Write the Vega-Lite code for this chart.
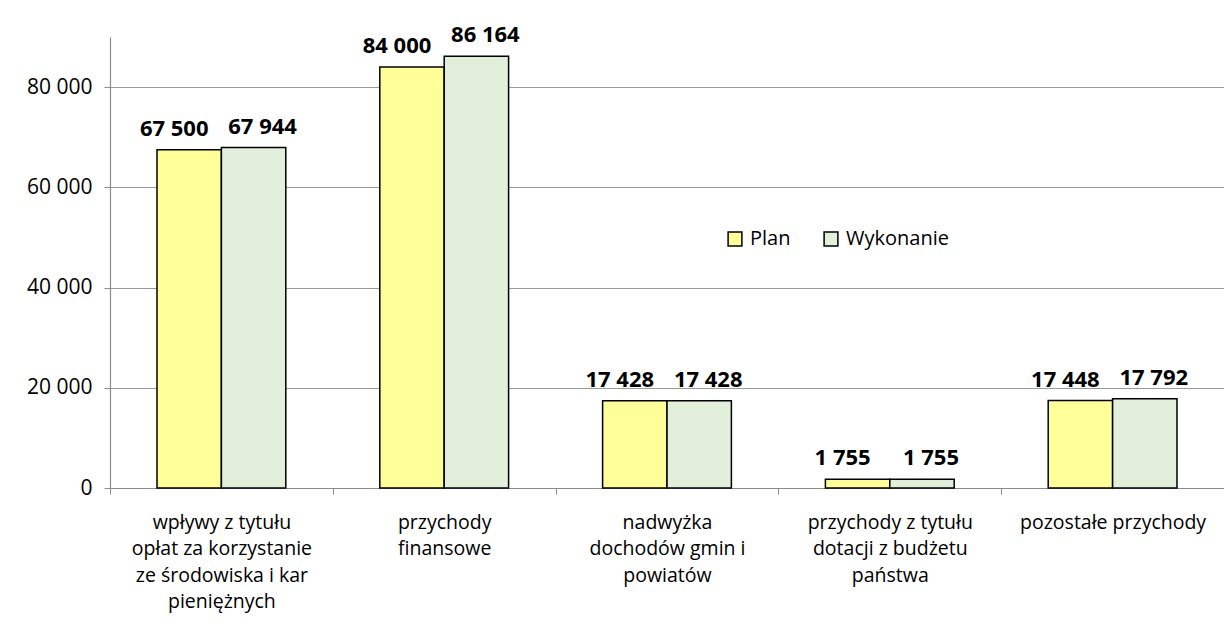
{
  "$schema": "https://vega.github.io/schema/vega-lite/v6.json",
  "width": 1114,
  "height": 451,
  "autosize": {"type": "none"},
  "padding": {"left": 110, "top": 37, "right": 0, "bottom": 144},
  "background": "white",
  "config": {
    "locale": {"number": {"decimal": ",", "thousands": " ", "grouping": [3], "currency": ["", " zł"]}},
    "font": "Open Sans",
    "view": {"stroke": null}
  },
  "data": {
    "values": [
      {"kategoria": "wpływy z tytułu|opłat za korzystanie|ze środowiska i kar|pieniężnych", "seria": "Plan", "wartosc": 67500},
      {"kategoria": "wpływy z tytułu|opłat za korzystanie|ze środowiska i kar|pieniężnych", "seria": "Wykonanie", "wartosc": 67944},
      {"kategoria": "przychody|finansowe", "seria": "Plan", "wartosc": 84000},
      {"kategoria": "przychody|finansowe", "seria": "Wykonanie", "wartosc": 86164},
      {"kategoria": "nadwyżka|dochodów gmin i|powiatów", "seria": "Plan", "wartosc": 17428},
      {"kategoria": "nadwyżka|dochodów gmin i|powiatów", "seria": "Wykonanie", "wartosc": 17428},
      {"kategoria": "przychody z tytułu|dotacji z budżetu|państwa", "seria": "Plan", "wartosc": 1755},
      {"kategoria": "przychody z tytułu|dotacji z budżetu|państwa", "seria": "Wykonanie", "wartosc": 1755},
      {"kategoria": "pozostałe przychody", "seria": "Plan", "wartosc": 17448},
      {"kategoria": "pozostałe przychody", "seria": "Wykonanie", "wartosc": 17792}
    ]
  },
  "encoding": {
    "x": {
      "field": "kategoria", "type": "nominal", "sort": null, "title": null,
      "scale": {"paddingInner": 0, "paddingOuter": 0},
      "axis": {
        "labelExpr": "split(datum.label, '|')",
        "labelAngle": 0, "labelFontSize": 19.5, "labelColor": "#000000",
        "labelLineHeight": 26.5, "labelPadding": 19, "labelBaseline": "top",
        "tickBand": "extent", "tickSize": 6, "tickColor": "#8c8c8c",
        "domainColor": "#8c8c8c", "domainWidth": 1.2, "labelLimit": 300
      }
    },
    "xOffset": {"field": "seria", "type": "nominal", "sort": ["Plan", "Wykonanie"], "scale": {"paddingOuter": 0.73, "paddingInner": 0}},
    "y": {
      "field": "wartosc", "type": "quantitative", "title": null,
      "scale": {"domain": [0, 90000], "nice": false},
      "axis": {
        "values": [0, 20000, 40000, 60000, 80000], "format": ",d",
        "labelFontSize": 21, "labelColor": "#000000", "labelPadding": 12,
        "tickSize": 6, "tickColor": "#8c8c8c", "domainColor": "#8c8c8c", "domainWidth": 1.2,
        "grid": true, "gridColor": "#9a9a9a", "gridWidth": 1
      }
    }
  },
  "layer": [
    {
      "mark": {"type": "bar", "stroke": "#000000", "strokeWidth": 1.5},
      "encoding": {
        "color": {
          "field": "seria", "type": "nominal", "title": null,
          "scale": {"domain": ["Plan", "Wykonanie"], "range": ["#FFFF99", "#E2EFDA"]},
          "legend": {
            "orient": "none", "legendX": 615, "legendY": 192, "direction": "horizontal",
            "symbolType": "square", "symbolSize": 190, "symbolStrokeColor": "#000000", "symbolStrokeWidth": 1.5,
            "labelFontSize": 20, "labelColor": "#000000", "columnPadding": 30, "labelOffset": 5
          }
        }
      }
    },
    {
      "transform": [{"filter": "datum.seria === 'Plan'"}],
      "mark": {"type": "text", "baseline": "alphabetic", "dy": -14, "dx": -15, "fontSize": 22, "fontWeight": "bold", "color": "#000000"},
      "encoding": {"text": {"field": "wartosc", "type": "quantitative", "format": ",d"}}
    },
    {
      "transform": [{"filter": "datum.seria === 'Wykonanie'"}],
      "mark": {"type": "text", "baseline": "alphabetic", "dy": -14, "dx": 9, "fontSize": 22, "fontWeight": "bold", "color": "#000000"},
      "encoding": {"text": {"field": "wartosc", "type": "quantitative", "format": ",d"}}
    }
  ]
}
